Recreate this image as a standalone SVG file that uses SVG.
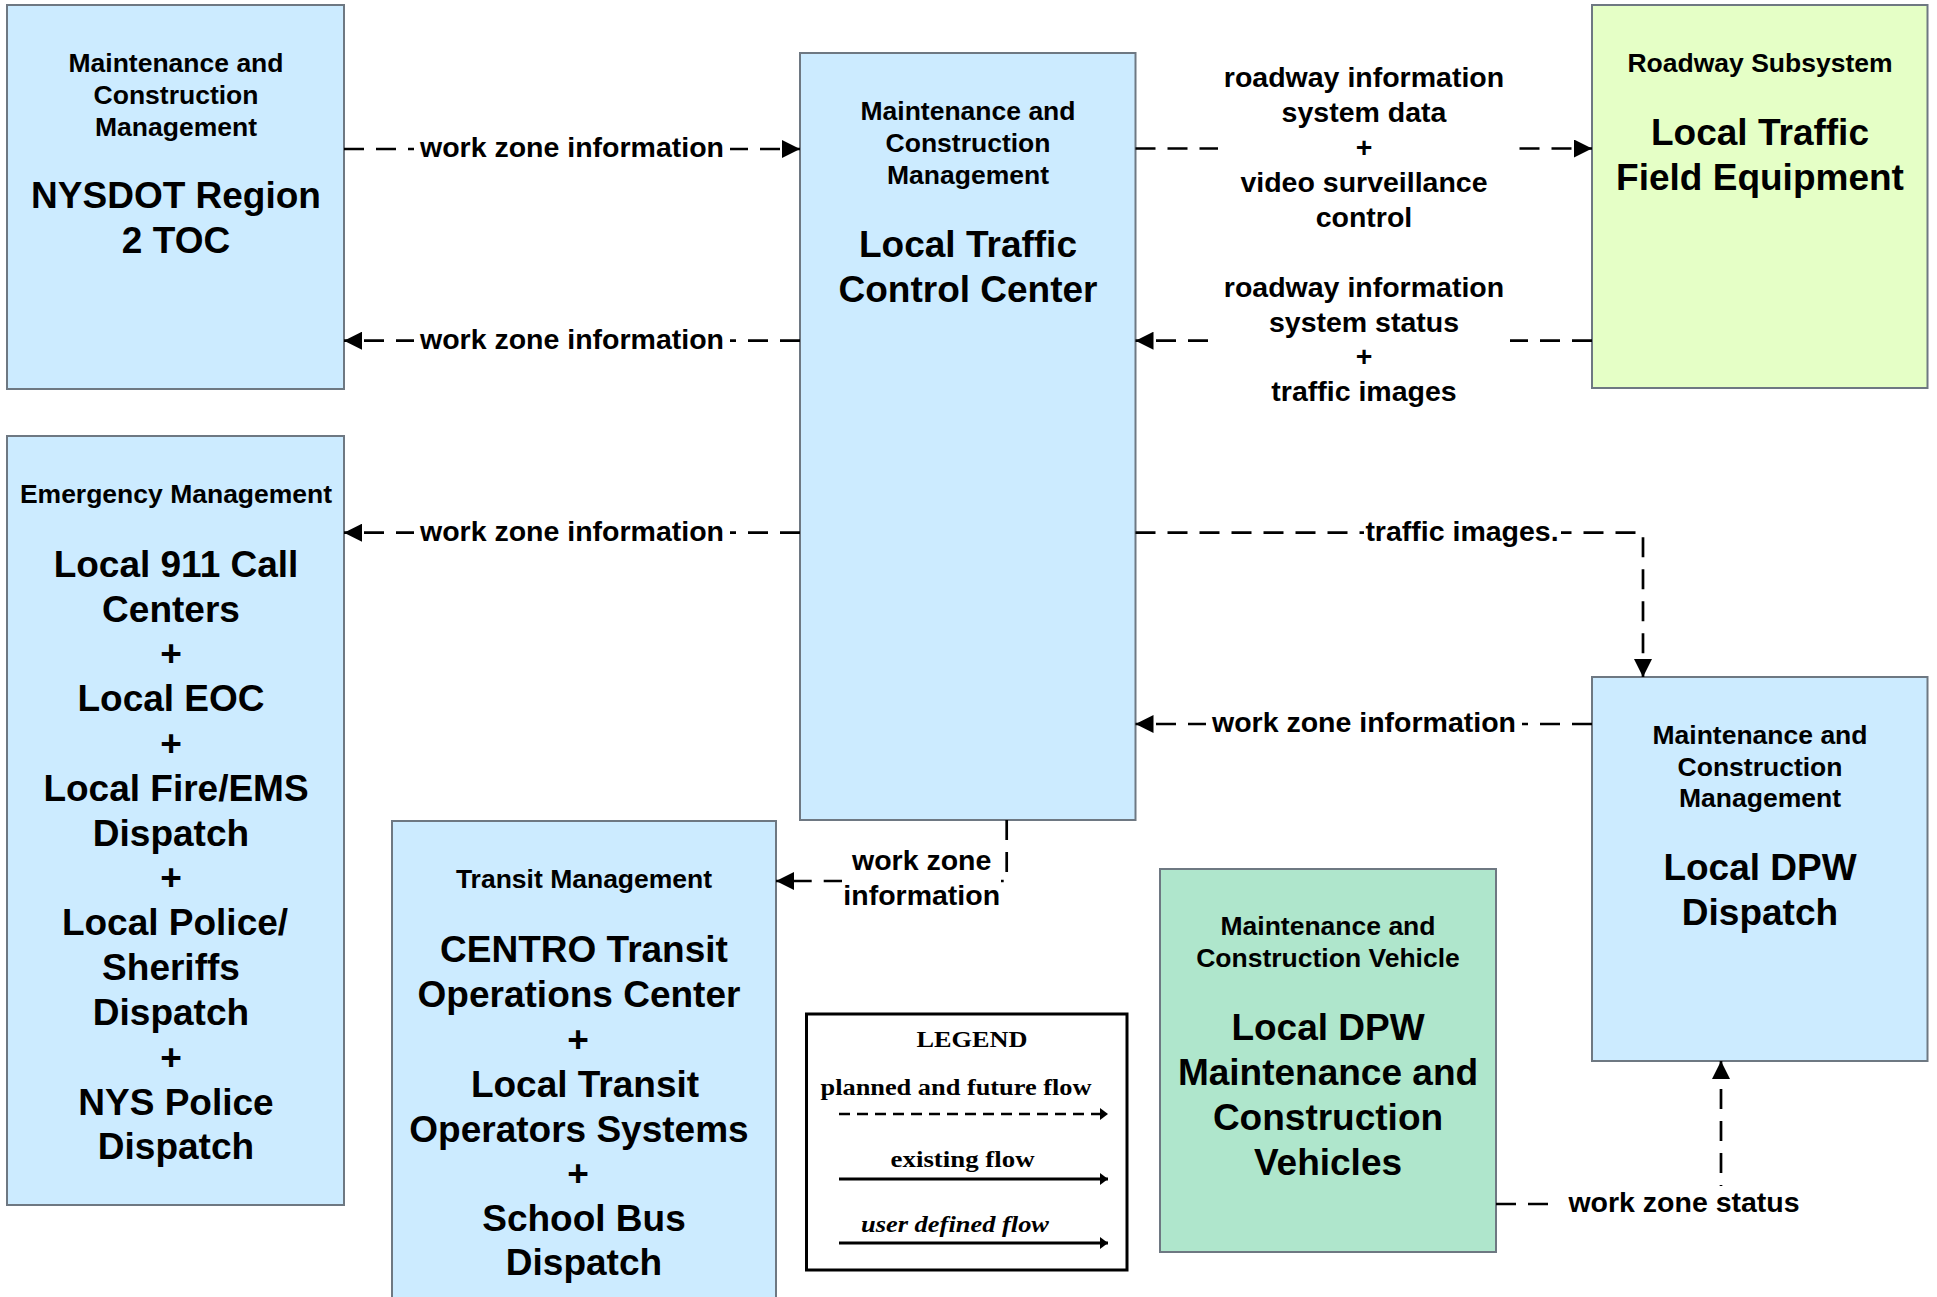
<svg xmlns="http://www.w3.org/2000/svg" width="1937" height="1297" viewBox="0 0 1937 1297">
<style>
.box{stroke:#6e7882;stroke-width:2}
.blue{fill:#CCEBFF}
.lime{fill:#E5FFC6}
.mint{fill:#AFE6CC}
.sub{font-family:"Liberation Sans",Arial,sans-serif;font-weight:bold;font-size:26.5px;text-anchor:middle;fill:#000}
.ttl{font-family:"Liberation Sans",Arial,sans-serif;font-weight:bold;font-size:37px;text-anchor:middle;fill:#000}
.lbl{font-family:"Liberation Sans",Arial,sans-serif;font-weight:bold;font-size:28.5px;text-anchor:middle;fill:#000}
.lbg{fill:#fff;stroke:none}
.flow{fill:none;stroke:#000;stroke-width:2.7;stroke-dasharray:20 12;marker-end:url(#ah)}
.leg{font-family:"Liberation Serif","Times New Roman",serif;font-weight:bold;font-size:24px;text-anchor:middle;fill:#000}
.lline{fill:none;stroke:#000;stroke-width:3;marker-end:url(#ahs)}
</style>
<defs>
<marker id="ah" markerUnits="userSpaceOnUse" viewBox="0 0 18 18" markerWidth="18" markerHeight="18" refX="18" refY="9" orient="auto"><path d="M0,0 L18,9 L0,18 z" fill="#000"/></marker>
<marker id="ahs" markerUnits="userSpaceOnUse" viewBox="0 0 8 12" markerWidth="8" markerHeight="12" refX="8" refY="6" orient="auto"><path d="M0,0 L8,6 L0,12 z" fill="#000"/></marker>
</defs>
<rect width="1937" height="1297" fill="#fff"/>

<g id="node-nysdot">
<rect class="box blue" x="7" y="5" width="337" height="384"/>
<text class="sub"><tspan x="176" y="72">Maintenance and</tspan><tspan x="176" y="104">Construction</tspan><tspan x="176" y="136">Management</tspan></text>
<text class="ttl"><tspan x="176" y="208">NYSDOT Region</tspan><tspan x="176" y="253">2 TOC</tspan></text>
</g>

<g id="node-ltcc">
<rect class="box blue" x="800" y="53" width="335.5" height="767"/>
<text class="sub"><tspan x="968" y="120">Maintenance and</tspan><tspan x="968" y="152">Construction</tspan><tspan x="968" y="184">Management</tspan></text>
<text class="ttl"><tspan x="968" y="257">Local Traffic</tspan><tspan x="968" y="302">Control Center</tspan></text>
</g>

<g id="node-roadway">
<rect class="box lime" x="1592" y="5" width="335.5" height="383"/>
<text class="sub"><tspan x="1760" y="72">Roadway Subsystem</tspan></text>
<text class="ttl"><tspan x="1760" y="145">Local Traffic</tspan><tspan x="1760" y="190">Field Equipment</tspan></text>
</g>

<g id="node-em">
<rect class="box blue" x="7" y="436" width="337" height="769"/>
<text class="sub"><tspan x="176" y="503">Emergency Management</tspan></text>
<text class="ttl"><tspan x="176" y="577">Local 911 Call</tspan><tspan x="171" y="621.5">Centers</tspan><tspan x="171" y="666">+</tspan><tspan x="171" y="711">Local EOC</tspan><tspan x="171" y="756">+</tspan><tspan x="176" y="800.5">Local Fire/EMS</tspan><tspan x="171" y="845.5">Dispatch</tspan><tspan x="171" y="890">+</tspan><tspan x="175" y="935">Local Police/</tspan><tspan x="171" y="980">Sheriffs</tspan><tspan x="171" y="1024.5">Dispatch</tspan><tspan x="171" y="1069.5">+</tspan><tspan x="176" y="1114.5">NYS Police</tspan><tspan x="176" y="1159">Dispatch</tspan></text>
</g>

<g id="node-transit">
<rect class="box blue" x="392" y="821" width="384" height="500"/>
<text class="sub"><tspan x="584" y="888">Transit Management</tspan></text>
<text class="ttl"><tspan x="584" y="962">CENTRO Transit</tspan><tspan x="579" y="1006.5">Operations Center</tspan><tspan x="578" y="1051.5">+</tspan><tspan x="585" y="1096.5">Local Transit</tspan><tspan x="579" y="1141.5">Operators Systems</tspan><tspan x="578" y="1186">+</tspan><tspan x="584" y="1230.5">School Bus</tspan><tspan x="584" y="1275">Dispatch</tspan></text>
</g>

<g id="node-dpw">
<rect class="box blue" x="1592" y="677" width="335.5" height="384"/>
<text class="sub"><tspan x="1760" y="743.5">Maintenance and</tspan><tspan x="1760" y="775.5">Construction</tspan><tspan x="1760" y="807">Management</tspan></text>
<text class="ttl"><tspan x="1760" y="880">Local DPW</tspan><tspan x="1760" y="925">Dispatch</tspan></text>
</g>

<g id="node-vehicles">
<rect class="box mint" x="1160" y="869" width="336" height="383"/>
<text class="sub"><tspan x="1328" y="935">Maintenance and</tspan><tspan x="1328" y="967">Construction Vehicle</tspan></text>
<text class="ttl"><tspan x="1328" y="1040">Local DPW</tspan><tspan x="1328" y="1085">Maintenance and</tspan><tspan x="1328" y="1130">Construction</tspan><tspan x="1328" y="1175">Vehicles</tspan></text>
</g>

<g id="connectors">
<path class="flow" d="M344,149 H800"/>
<rect class="lbg" x="414" y="135" width="316" height="28"/>
<text class="lbl" x="572" y="157">work zone information</text>

<path class="flow" d="M800,340.7 H344"/>
<rect class="lbg" x="414" y="327" width="316" height="28"/>
<text class="lbl" x="572" y="349">work zone information</text>

<path class="flow" d="M800,532.7 H344"/>
<rect class="lbg" x="414" y="519" width="316" height="28"/>
<text class="lbl" x="572" y="541">work zone information</text>

<path class="flow" d="M1135.5,148.5 H1592"/>
<rect class="lbg" x="1218" y="60" width="300" height="176"/>
<text class="lbl"><tspan x="1364" y="87">roadway information</tspan><tspan x="1364" y="122">system data</tspan><tspan x="1364" y="157">+</tspan><tspan x="1364" y="192">video surveillance</tspan><tspan x="1364" y="227">control</tspan></text>

<path class="flow" d="M1592,340.7 H1135.5"/>
<rect class="lbg" x="1210" y="270" width="300" height="140"/>
<text class="lbl"><tspan x="1364" y="297">roadway information</tspan><tspan x="1364" y="331.5">system status</tspan><tspan x="1364" y="366">+</tspan><tspan x="1364" y="401">traffic images</tspan></text>

<path class="flow" d="M1135.5,532.7 H1643 V677"/>
<rect class="lbg" x="1364" y="519" width="197" height="28"/>
<text class="lbl" x="1462" y="541">traffic images.</text>

<path class="flow" d="M1592,724 H1135.5"/>
<rect class="lbg" x="1206" y="710" width="316" height="28"/>
<text class="lbl" x="1364" y="732">work zone information</text>

<path class="flow" d="M1006.7,820 V881 H776"/>
<rect class="lbg" x="842" y="846" width="159" height="66"/>
<text class="lbl"><tspan x="921.7" y="870">work zone</tspan><tspan x="921.7" y="905">information</tspan></text>

<path class="flow" d="M1496,1204 H1721 V1061"/>
<rect class="lbg" x="1559" y="1186" width="251" height="32"/>
<text class="lbl" x="1684" y="1212">work zone status</text>
</g>

<g id="legend">
<rect x="806.5" y="1014" width="320.5" height="256" fill="#fff" stroke="#000" stroke-width="3"/>
<text class="leg" x="972" y="1046.7" font-size="25" textLength="111" lengthAdjust="spacingAndGlyphs">LEGEND</text>
<text class="leg" x="956" y="1095" textLength="271" lengthAdjust="spacingAndGlyphs">planned and future flow</text>
<path d="M839,1114 H1108" fill="none" stroke="#000" stroke-width="2.5" stroke-dasharray="11 7" marker-end="url(#ahs)"/>
<text class="leg" x="962.6" y="1166.7" textLength="144" lengthAdjust="spacingAndGlyphs">existing flow</text>
<path class="lline" d="M839,1179 H1108"/>
<text class="leg" x="955" y="1231.7" font-style="italic" textLength="188" lengthAdjust="spacingAndGlyphs">user defined flow</text>
<path class="lline" d="M839,1243 H1108"/>
</g>
</svg>
